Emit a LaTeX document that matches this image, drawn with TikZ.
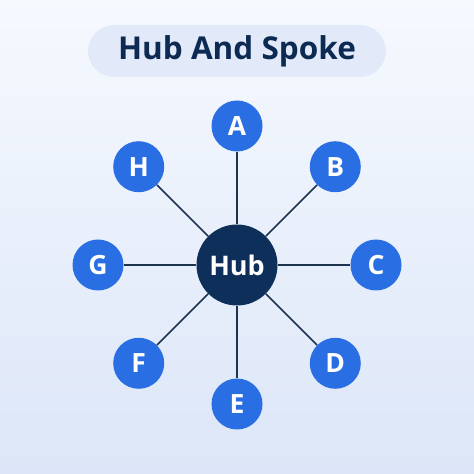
\documentclass[tikz,border=0pt]{standalone}
\usepackage{fontspec}
\setmainfont{Open Sans}
\usetikzlibrary{calc}
\definecolor{bgtop}{HTML}{F6F9FE}
\definecolor{bgbot}{HTML}{DCE6F8}
\definecolor{titlefill}{HTML}{E2EAF9}
\definecolor{navy}{HTML}{0D2B52}
\definecolor{hubfill}{HTML}{0E2F5A}
\definecolor{spokefill}{HTML}{2A6EE3}
\definecolor{linecol}{HTML}{1E3350}
\tikzset{
  spokenode/.style={circle, fill=spokefill, minimum size=51pt, inner sep=0pt, text=white, font=\fontsize{26.5}{26.5}\selectfont\bfseries},
  hubnode/.style={circle, fill=hubfill, minimum size=81pt, inner sep=0pt, text=white, font=\fontsize{27}{27}\selectfont\bfseries},
  link/.style={draw=linecol, line width=1.5pt},
  titlebox/.style={rounded corners=26pt, fill=titlefill, minimum width=298pt, minimum height=52pt, inner sep=0pt, text=navy, font=\fontsize{31.5}{31.5}\selectfont\bfseries}
}
\begin{document}
\begin{tikzpicture}[x=1pt,y=1pt]
\shade[top color=bgtop, bottom color=bgbot] (0,0) rectangle (474,474);
\useasboundingbox (0,0) rectangle (474,474);
\node[titlebox] (title) at (237,423) {Hub And Spoke};
\node[hubnode] (hub) at (237,209) {Hub};
\foreach \n/\ang in {A/90,B/45,C/0,D/-45,E/-90,F/-135,G/180,H/135}{
  \node[spokenode] (\n) at ($(hub)+(\ang:139)$) {\n};
  \draw[link] (hub) -- (\n);
}
\end{tikzpicture}
\end{document}
